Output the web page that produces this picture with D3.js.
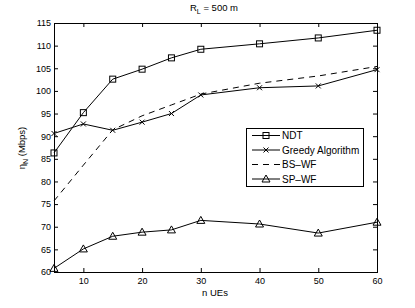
<!DOCTYPE html>
<html><head><meta charset="utf-8">
<script src="https://cdn.jsdelivr.net/npm/d3@7"></script>
<style>body{margin:0;background:#fff}svg{display:block;font-family:"Liberation Sans",Arial,sans-serif}</style>
</head><body><svg id="c" width="415" height="308"></svg>
<script>
const nUEs = [5,10,15,20,25,30,40,50,60];
const ndt = [86.3,95.2,102.6,104.8,107.3,109.2,110.4,111.7,113.4];
const greedy = [90.6,92.7,91.3,93.1,95.0,99.1,100.7,101.1,104.7];
const bswf = [75.7,83.6,91.4,94.5,96.9,99.3,101.7,103.3,105.4];
const spwf = [60.8,65.1,67.9,68.8,69.3,71.4,70.6,68.6,71.0];
const xTicks = [10,20,30,40,50,60];
const yTicks = [60,65,70,75,80,85,90,95,100,105,110,115];

const svg = d3.select("#c");
const L=54,R=377,T=23,B=272;
const x = d3.scaleLinear().domain([5,60]).range([L,R]);
const y = d3.scaleLinear().domain([60,115]).range([B,T]);

// frame
svg.append("rect").attr("x",L).attr("y",T).attr("width",R-L).attr("height",B-T).attr("fill","none").attr("stroke","#000").attr("stroke-width",1).attr("shape-rendering","crispEdges");

const xb = svg.append("g").attr("transform",`translate(0,${B})`).call(d3.axisBottom(x).tickValues(xTicks).tickSizeInner(-4).tickSizeOuter(0).tickPadding(6));
const xt = svg.append("g").attr("transform",`translate(0,${T})`).call(d3.axisTop(x).tickValues(xTicks).tickSizeInner(-4).tickSizeOuter(0).tickFormat(""));
const yl = svg.append("g").attr("transform",`translate(${L},0)`).call(d3.axisLeft(y).tickValues(yTicks).tickSizeInner(-4).tickSizeOuter(0).tickPadding(3));
const yr = svg.append("g").attr("transform",`translate(${R},0)`).call(d3.axisRight(y).tickValues(yTicks).tickSizeInner(-4).tickSizeOuter(0).tickFormat(""));
[xb,xt,yl,yr].forEach(g=>{g.select(".domain").remove();g.selectAll("line").attr("stroke","#000");g.selectAll("text").attr("font-size",9).attr("fill","#000").attr("font-family","'Liberation Sans',Arial,sans-serif");});

// lines
function series(vals, dash){
  const line = d3.line().x((d,i)=>x(nUEs[i])).y(d=>y(d));
  svg.append("path").datum(vals).attr("d",line).attr("fill","none").attr("stroke","#000").attr("stroke-width",1).attr("stroke-dasharray",dash||null);
}
series(ndt); series(greedy); series(bswf,"6,5"); series(spwf);

function sq(g,cx,cy){g.append("rect").attr("x",cx-3).attr("y",cy-3).attr("width",6).attr("height",6).attr("fill","none").attr("stroke","#000").attr("stroke-width",1);}
function cross(g,cx,cy){const s=2.5;g.append("path").attr("d",`M${cx-s},${cy-s}L${cx+s},${cy+s}M${cx-s},${cy+s}L${cx+s},${cy-s}`).attr("stroke","#000").attr("stroke-width",1);}
function tri(g,cx,cy){g.append("path").attr("d",`M${cx},${cy-4}L${cx+4},${cy+3}L${cx-4},${cy+3}Z`).attr("fill","none").attr("stroke","#000").attr("stroke-width",1);}
const mk = svg.append("g");
ndt.forEach((v,i)=>sq(mk,x(nUEs[i]),y(v)));
greedy.forEach((v,i)=>cross(mk,x(nUEs[i]),y(v)));
spwf.forEach((v,i)=>tri(mk,x(nUEs[i]),y(v)));

// legend
const lg = svg.append("g");
lg.append("rect").attr("x",246).attr("y",128).attr("width",117).attr("height",58).attr("fill","#fff").attr("stroke","#000").attr("stroke-width",1).attr("shape-rendering","crispEdges");
const names=["NDT","Greedy Algorithm","BS\u2013WF","SP\u2013WF"];
const rows=[135.5,150,164.5,179];
names.forEach((n,i)=>{
  const ry=rows[i];
  lg.append("line").attr("x1",252).attr("x2",280).attr("y1",ry).attr("y2",ry).attr("stroke","#000").attr("stroke-width",1).attr("stroke-dasharray",i===2?"6,5":null);
  if(i===0)sq(lg,266,ry); if(i===1)cross(lg,266,ry); if(i===3)tri(lg,266,ry);
  lg.append("text").attr("x",282).attr("y",ry).attr("dy","0.35em").attr("font-size",10).text(n);
});

// labels
const tt = svg.append("text").attr("x",214).attr("y",11).attr("text-anchor","middle").attr("font-size",9.5);
tt.append("tspan").text("R");
tt.append("tspan").attr("font-size",7).attr("dy",2.5).text("L");
tt.append("tspan").attr("dy",-2.5).text(" = 500 m");
svg.append("text").attr("x",215).attr("y",296).attr("text-anchor","middle").attr("font-size",9.5).text("n UEs");
const yt = svg.append("text").attr("transform","translate(25,148) rotate(-90)").attr("text-anchor","middle").attr("font-size",9.5);
yt.append("tspan").text("\u03b7");
yt.append("tspan").attr("font-size",7).attr("dy",2.5).text("N");
yt.append("tspan").attr("dy",-2.5).text(" (Mbps)");
</script></body></html>
